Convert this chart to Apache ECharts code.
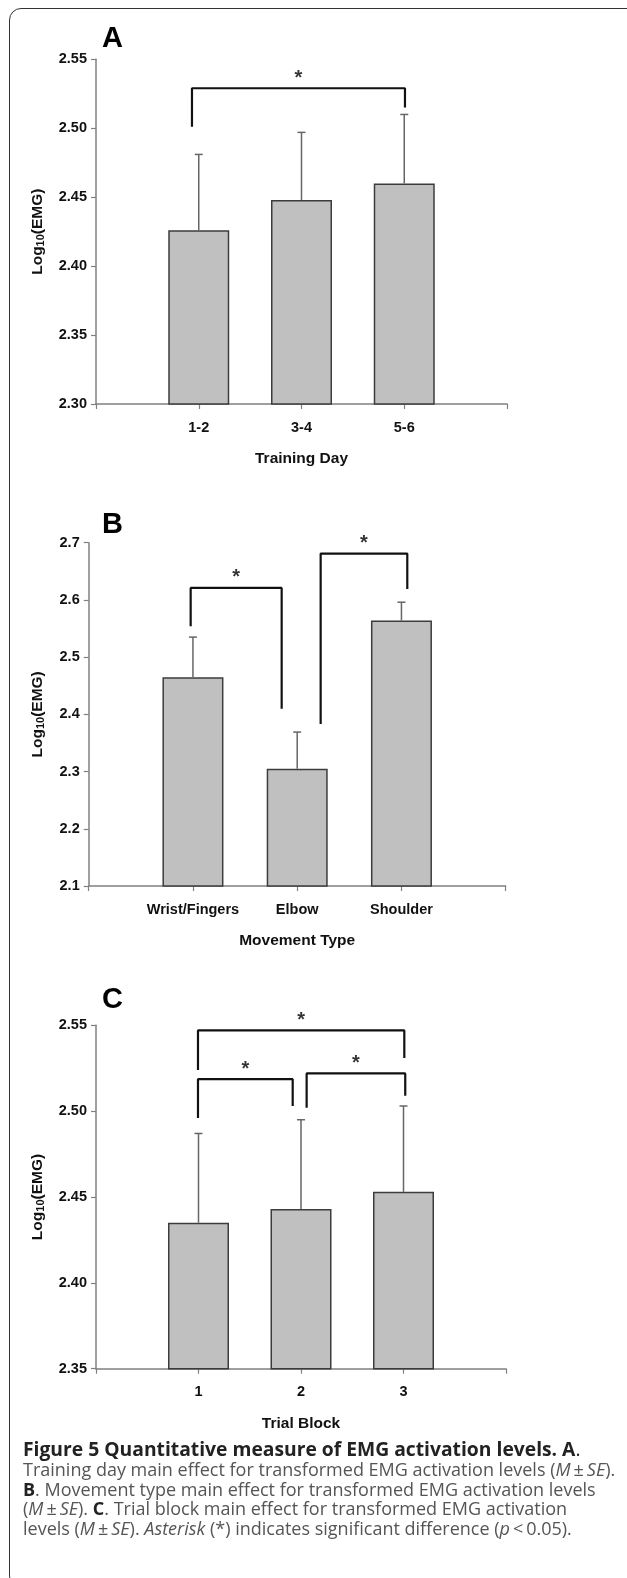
<!DOCTYPE html>
<html>
<head>
<meta charset="utf-8">
<script src="https://cdn.jsdelivr.net/npm/echarts@6.0.0/dist/echarts.min.js"></script>
<style>
  html, body { margin: 0; padding: 0; background: #fff; }
  #frame {
    position: absolute; left: 9px; top: 8px; width: 640px; height: 1580px;
    border: 1.5px solid #333; border-radius: 12px; box-sizing: border-box;
  }
  #chart { position: absolute; left: 0; top: 0; width: 627px; height: 1578px; }
  #caption {
    position: absolute; left: 23px; top: 1437px; width: 610px;
    font-family: "Open Sans", "Noto Sans", sans-serif; font-size: 18px;
    color: #555; white-space: nowrap;
  }
  #caption .head { font-size: 19.3px; font-weight: bold; color: #222; height: 23px; line-height: 23px; }
  #caption .body { line-height: 19.6px; }
  #caption b { color: #222; }
</style>
</head>
<body>
<div id="frame"></div>
<div id="chart"></div>
<div id="caption">
  <div class="head">Figure 5 Quantitative measure of EMG activation levels. A<span style="font-weight:normal">.</span></div>
  <div class="body">
    Training day main effect for transformed EMG activation levels (<i>M</i>&thinsp;±&thinsp;<i>SE</i>).<br>
    <b>B</b>. Movement type main effect for transformed EMG activation levels<br>
    (<i>M</i>&thinsp;±&thinsp;<i>SE</i>). <b>C</b>. Trial block main effect for transformed EMG activation<br>
    levels (<i>M</i>&thinsp;±&thinsp;<i>SE</i>). <i>Asterisk</i> (*) indicates significant difference (<i>p</i>&thinsp;&lt;&thinsp;0.05).
  </div>
</div>
<script>
// panel A - training day
var catsA = ['1-2', '3-4', '5-6'];
var meanA = [2.426, 2.448, 2.460];
var seA = [0.055, 0.049, 0.050];
var ticksA = ['2.30', '2.35', '2.40', '2.45', '2.50', '2.55'];
// x1, x2, bracket top, left foot, right foot
var bracketsA = [[0.934, 3.007, 2.529, 2.501, 2.515]];

// panel B - movement type
var catsB = ['Wrist/Fingers', 'Elbow', 'Shoulder'];
var meanB = [2.465, 2.305, 2.564];
var seB = [0.070, 0.064, 0.032];
var ticksB = ['2.1', '2.2', '2.3', '2.4', '2.5', '2.6', '2.7'];
var bracketsB = [
  [0.978, 1.851, 2.621, 2.554, 2.410],
  [2.225, 3.056, 2.681, 2.383, 2.619]
];

// panel C - trial block
var catsC = ['1', '2', '3'];
var meanC = [2.435, 2.443, 2.453];
var seC = [0.052, 0.052, 0.050];
var ticksC = ['2.35', '2.40', '2.45', '2.50', '2.55'];
var bracketsC = [
  [0.995, 3.008, 2.547, 2.524, 2.531],
  [0.995, 1.919, 2.5186, 2.496, 2.503],
  [2.055, 3.017, 2.522, 2.502, 2.509]
];

var panels = [
  { letter: 'A', cats: catsA, mean: meanA, se: seA, ticks: ticksA, brackets: bracketsA, xname: 'Training Day',
    grid: { left: 96, top: 59.3, width: 411, height: 344.7 }, letterY: 40, nameGap: 50 },
  { letter: 'B', cats: catsB, mean: meanB, se: seB, ticks: ticksB, brackets: bracketsB, xname: 'Movement Type',
    grid: { left: 88.7, top: 542.7, width: 417, height: 343.3 }, letterY: 526, nameGap: 42 },
  { letter: 'C', cats: catsC, mean: meanC, se: seC, ticks: ticksC, brackets: bracketsC, xname: 'Trial Block',
    grid: { left: 96, top: 1025.3, width: 410, height: 343.4 }, letterY: 1001, nameGap: 50 }
];

var font = '"Liberation Sans", Arial, sans-serif';
var axisGray = '#808080';

var grids = [], xAxes = [], yAxes = [], series = [], graphics = [];

panels.forEach(function (p, i) {
  grids.push(p.grid);
  var t0 = parseFloat(p.ticks[0]);
  var t1 = parseFloat(p.ticks[p.ticks.length - 1]);
  var step = parseFloat(p.ticks[1]) - t0;
  var dec = p.ticks[0].split('.')[1].length;

  xAxes.push({
    gridIndex: i, type: 'value', min: 0, max: 4, interval: 1,
    splitLine: { show: false },
    axisLine: { lineStyle: { color: axisGray, width: 1.5 } },
    axisTick: { show: true, length: 5, lineStyle: { color: axisGray, width: 1.2 } },
    axisLabel: {
      margin: 16, fontFamily: font, fontWeight: 'bold', fontSize: 14.5, color: '#111',
      formatter: function (v) { return p.cats[v - 1] || ''; }
    },
    name: p.xname, nameLocation: 'middle', nameGap: 47,
    nameTextStyle: { fontFamily: font, fontWeight: 'bold', fontSize: 15.5, color: '#111' }
  });

  yAxes.push({
    gridIndex: i, type: 'value', min: t0, max: t1, interval: Math.round(step * 1000) / 1000,
    splitLine: { show: false },
    axisLine: { show: true, lineStyle: { color: axisGray, width: 1.5 } },
    axisTick: { show: true, length: 5, lineStyle: { color: axisGray, width: 1.2 } },
    axisLabel: {
      margin: 9, fontFamily: font, fontWeight: 'bold', fontSize: 14.5, color: '#111',
      formatter: function (v) { return v.toFixed(dec); }
    },
    name: '{a|Log}{b|10}{a|(EMG)}', nameLocation: 'middle', nameRotate: 90, nameGap: p.nameGap,
    nameTextStyle: {
      rich: {
        a: { fontFamily: font, fontWeight: 'bold', fontSize: 15.5, color: '#111' },
        b: { fontFamily: font, fontWeight: 'bold', fontSize: 11, color: '#111', verticalAlign: 'bottom', padding: [6, 0, 0, 0] }
      }
    }
  });

  series.push({
    type: 'bar', xAxisIndex: i, yAxisIndex: i, barWidth: 61,
    itemStyle: { color: '#c0c0c0', borderColor: '#3c3c3c', borderWidth: 1.5 },
    data: p.mean.map(function (m, k) { return [k + 1, m]; }),
    z: 2
  });

  series.push({
    type: 'custom', xAxisIndex: i, yAxisIndex: i,
    data: p.mean.map(function (m, k) { return [k + 1, m, m + p.se[k]]; }),
    renderItem: function (params, api) {
      var lo = api.coord([api.value(0), api.value(1)]);
      var hi = api.coord([api.value(0), api.value(2)]);
      var st = { stroke: '#666', lineWidth: 1.5 };
      return {
        type: 'group',
        children: [
          { type: 'line', shape: { x1: lo[0], y1: lo[1], x2: hi[0], y2: hi[1] }, style: st },
          { type: 'line', shape: { x1: hi[0] - 4, y1: hi[1], x2: hi[0] + 4, y2: hi[1] }, style: st }
        ]
      };
    },
    z: 3
  });

  p.brackets.forEach(function (b) {
    series.push({
      type: 'line', xAxisIndex: i, yAxisIndex: i, symbol: 'none', silent: true,
      lineStyle: { color: '#111', width: 2.2 },
      data: [[b[0], b[3]], [b[0], b[2]], [b[1], b[2]], [b[1], b[4]]],
      z: 4
    });
    series.push({
      type: 'scatter', xAxisIndex: i, yAxisIndex: i, symbolSize: 0, silent: true,
      data: [[(b[0] + b[1]) / 2, b[2]]],
      label: {
        show: true, position: 'top', distance: 0, formatter: '*',
        fontFamily: font, fontWeight: 'bold', fontSize: 20, color: '#000'
      },
      z: 5
    });
  });

  graphics.push({
    type: 'text', left: 102, top: p.letterY - 16,
    style: { text: p.letter, font: 'bold 29px ' + font, fill: '#000' }
  });
});

var chart = echarts.init(document.getElementById('chart'), null, { renderer: 'canvas' });
chart.setOption({
  animation: false,
  grid: grids,
  xAxis: xAxes,
  yAxis: yAxes,
  series: series,
  graphic: graphics
});
</script>
</body>
</html>
